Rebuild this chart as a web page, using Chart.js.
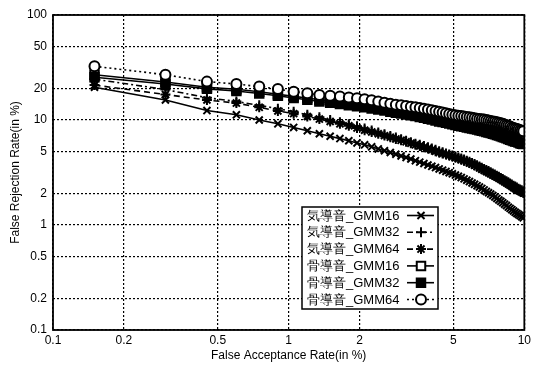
<!DOCTYPE html>
<html>
<head>
<meta charset="utf-8">
<script src="https://cdn.jsdelivr.net/npm/chart.js@4.4.0/dist/chart.umd.min.js"></script>
<style>
  html, body { margin: 0; padding: 0; background: #fff; }
  #wrap { width: 534px; height: 365px; }
</style>
</head>
<body>
<div id="wrap"><canvas id="detChart" width="534" height="365"></canvas></div>
<script>
// FAR (%) の測定点
const far = [0.15, 0.3, 0.45, 0.6, 0.75, 0.9, 1.05, 1.2, 1.35, 1.5, 1.65, 1.8, 1.95, 2.1, 2.25, 2.4, 2.55, 2.7,
  2.85, 3.0, 3.15, 3.3, 3.45, 3.6, 3.75, 3.9, 4.05, 4.2, 4.35, 4.5, 4.65, 4.8, 4.95, 5.1, 5.25, 5.4, 5.55,
  5.7, 5.85, 6.0, 6.15, 6.3, 6.45, 6.6, 6.75, 6.9, 7.05, 7.2, 7.35, 7.5, 7.65, 7.8, 7.95, 8.1, 8.25, 8.4,
  8.55, 8.7, 8.85, 9.0, 9.15, 9.3, 9.45, 9.6, 9.75, 9.9];

// FRR (%) 各条件
const airGmm16 = [20.5, 15.5, 12.3, 11.2, 10.0, 9.2, 8.5, 7.9, 7.4, 7.0, 6.65, 6.35, 6.05, 5.8, 5.55, 5.3, 5.1, 4.9,
  4.72, 4.55, 4.4, 4.25, 4.1, 3.97, 3.85, 3.73, 3.62, 3.52, 3.42, 3.33, 3.24, 3.15, 3.07, 2.99, 2.91, 2.83, 2.75,
  2.67, 2.59, 2.51, 2.44, 2.37, 2.30, 2.23, 2.16, 2.09, 2.03, 1.97, 1.91, 1.85, 1.79, 1.73, 1.68, 1.63, 1.58,
  1.53, 1.48, 1.44, 1.40, 1.36, 1.32, 1.29, 1.26, 1.23, 1.20, 1.17];
const airGmm32 = [24.5, 19.5, 16.3, 15.0, 13.8, 12.8, 12.0, 11.2, 10.6, 10.0, 9.5, 9.1, 8.7, 8.3, 7.95, 7.6, 7.3, 7.05,
  6.8, 6.55, 6.35, 6.15, 5.95, 5.8, 5.65, 5.5, 5.35, 5.2, 5.05, 4.92, 4.8, 4.7, 4.6, 4.5, 4.4, 4.3, 4.2,
  4.1, 4.0, 3.9, 3.8, 3.7, 3.6, 3.5, 3.42, 3.34, 3.26, 3.18, 3.1, 3.02, 2.95, 2.88, 2.81, 2.74, 2.67,
  2.61, 2.55, 2.49, 2.43, 2.37, 2.32, 2.27, 2.22, 2.18, 2.14, 2.10];
const airGmm64 = [21.5, 17.5, 15.5, 14.5, 13.2, 12.2, 11.5, 10.8, 10.2, 9.7, 9.2, 8.8, 8.4, 8.0, 7.7, 7.4, 7.1, 6.85,
  6.6, 6.4, 6.2, 6.0, 5.8, 5.65, 5.5, 5.35, 5.2, 5.05, 4.9, 4.8, 4.7, 4.6, 4.5, 4.4, 4.3, 4.2, 4.1,
  4.0, 3.9, 3.8, 3.7, 3.6, 3.5, 3.4, 3.32, 3.24, 3.16, 3.08, 3.0, 2.93, 2.86, 2.79, 2.72, 2.65, 2.58,
  2.52, 2.46, 2.40, 2.34, 2.28, 2.23, 2.18, 2.14, 2.10, 2.06, 2.02];
const boneGmm16 = [27.0, 23.0, 20.5, 19.6, 18.6, 17.6, 16.8, 16.2, 15.6, 15.2, 14.8, 14.4, 14.0, 13.7, 13.4, 13.1, 12.8, 12.5,
  12.2, 12.0, 11.8, 11.6, 11.4, 11.2, 11.0, 10.8, 10.6, 10.4, 10.2, 10.0, 9.85, 9.7, 9.55, 9.4, 9.25, 9.1, 9.0,
  8.9, 8.8, 8.7, 8.6, 8.5, 8.4, 8.3, 8.2, 8.1, 8.0, 7.9, 7.8, 7.7, 7.6, 7.5, 7.4, 7.3, 7.2,
  7.1, 7.0, 6.9, 6.8, 6.7, 6.65, 6.6, 6.5, 6.4, 6.35, 6.3];
const boneGmm32 = [25.5, 22.0, 19.8, 18.9, 17.9, 17.0, 16.2, 15.6, 15.0, 14.6, 14.2, 13.8, 13.5, 13.2, 12.9, 12.6, 12.3, 12.0,
  11.7, 11.5, 11.3, 11.1, 10.9, 10.7, 10.5, 10.3, 10.1, 9.9, 9.7, 9.55, 9.4, 9.25, 9.1, 8.95, 8.8, 8.7, 8.6,
  8.5, 8.4, 8.3, 8.2, 8.1, 8.0, 7.9, 7.8, 7.7, 7.6, 7.5, 7.4, 7.3, 7.2, 7.1, 7.0, 6.9, 6.8,
  6.7, 6.6, 6.5, 6.4, 6.3, 6.25, 6.2, 6.1, 6.0, 5.95, 5.9];
const boneGmm64 = [32.5, 27.0, 23.2, 22.0, 20.8, 19.7, 18.6, 18.0, 17.3, 17.0, 16.7, 16.4, 16.1, 15.8, 15.4, 15.0, 14.6, 14.3,
  14.0, 13.8, 13.6, 13.4, 13.2, 13.0, 12.8, 12.6, 12.4, 12.2, 12.0, 11.8, 11.6, 11.4, 11.2, 11.1, 11.0, 10.9, 10.8,
  10.7, 10.6, 10.5, 10.4, 10.3, 10.2, 10.15, 10.1, 10.0, 9.9, 9.8, 9.7, 9.6, 9.5, 9.4, 9.3, 9.2, 9.05,
  8.9, 8.8, 8.65, 8.5, 8.4, 8.3, 8.2, 8.1, 8.0, 7.9, 7.8];

const seriesLabels = ['気導音_GMM16', '気導音_GMM32', '気導音_GMM64', '骨導音_GMM16', '骨導音_GMM32', '骨導音_GMM64'];
const xTicks = [0.1, 0.2, 0.5, 1, 2, 5, 10];
const yTicks = [0.1, 0.2, 0.5, 1, 2, 5, 10, 20, 50, 100];

const FONT = '"Liberation Sans", Arial, Helvetica, sans-serif';

function pairs(ys) {
    return far.map(function (x, i) { return { x: x, y: ys[i] }; });
}

function serie(label, ys, style, dash, fill, radius, order) {
    return {
        label: label,
        data: pairs(ys),
        borderColor: '#000',
        borderWidth: 1.6,
        borderDash: dash,
        pointStyle: style,
        pointRadius: radius,
        pointBorderWidth: 2,
        pointBorderColor: '#000',
        pointBackgroundColor: fill,
        fill: false,
        tension: 0,
        order: order
    };
}

// 枠線と凡例（右下の箱）
function drawMarker(ctx, style, x, y, r, fill) {
    ctx.save();
    ctx.setLineDash([]);
    ctx.lineWidth = 2;
    ctx.strokeStyle = '#000';
    ctx.fillStyle = fill;
    ctx.beginPath();
    if (style === 'circle') {
        ctx.arc(x, y, r, 0, Math.PI * 2);
        ctx.fill(); ctx.stroke();
    } else if (style === 'rect') {
        const s = r * Math.SQRT1_2;
        ctx.rect(x - s, y - s, 2 * s, 2 * s);
        ctx.fill(); ctx.stroke();
    } else {
        if (style === 'cross' || style === 'star') {
            ctx.moveTo(x - r, y); ctx.lineTo(x + r, y);
            ctx.moveTo(x, y - r); ctx.lineTo(x, y + r);
        }
        if (style === 'crossRot' || style === 'star') {
            const d = r * Math.SQRT1_2;
            ctx.moveTo(x - d, y - d); ctx.lineTo(x + d, y + d);
            ctx.moveTo(x - d, y + d); ctx.lineTo(x + d, y - d);
        }
        ctx.stroke();
    }
    ctx.restore();
}

const frameLegend = {
    id: 'frameLegend',
    afterDraw: function (chart) {
        const ctx = chart.ctx;
        const a = chart.chartArea;
        ctx.save();
        ctx.setLineDash([]);
        ctx.strokeStyle = '#000';
        ctx.lineWidth = 1.8;
        ctx.strokeRect(a.left, a.top, a.right - a.left, a.bottom - a.top);

        const bx = 302, by = 207, bw = 136, bh = 102;
        ctx.fillStyle = '#fff';
        ctx.fillRect(bx, by, bw, bh);
        ctx.lineWidth = 1.5;
        ctx.strokeRect(bx, by, bw, bh);

        ctx.font = '13px ' + FONT;
        ctx.textBaseline = 'middle';
        chart.data.datasets.forEach(function (ds, i) {
            const y = by + 8.5 + i * 16.8;
            ctx.fillStyle = '#000';
            ctx.fillText(ds.label, bx + 5, y + 0.5);
            ctx.save();
            ctx.setLineDash(ds.borderDash || []);
            ctx.lineWidth = 1.6;
            ctx.beginPath();
            ctx.moveTo(bx + 105, y);
            ctx.lineTo(bx + 132, y);
            ctx.stroke();
            ctx.restore();
            drawMarker(ctx, ds.pointStyle, bx + 119, y, ds.pointRadius, ds.pointBackgroundColor);
        });
        ctx.restore();
    }
};

document.addEventListener('DOMContentLoaded', function () {
    const ctx = document.getElementById('detChart');

    new Chart(ctx, {
        type: 'line',
        data: {
            datasets: [
                serie(seriesLabels[0], airGmm16, 'crossRot', [], '#000', 5, 5),
                serie(seriesLabels[1], airGmm32, 'cross', [6, 3, 2, 3], '#000', 5, 4),
                serie(seriesLabels[2], airGmm64, 'star', [6, 4], '#000', 5, 3),
                serie(seriesLabels[3], boneGmm16, 'rect', [], '#fff', 6, 2),
                serie(seriesLabels[4], boneGmm32, 'rect', [], '#000', 6, 1),
                serie(seriesLabels[5], boneGmm64, 'circle', [2, 3], '#fff', 5, 0)
            ]
        },
        options: {
            responsive: false,
            animation: false,
            events: [],
            layout: { padding: { top: 15, right: 7, left: 0, bottom: 0 } },
            scales: {
                x: {
                    type: 'logarithmic',
                    min: 0.1,
                    max: 10,
                    afterBuildTicks: function (scale) {
                        scale.ticks = xTicks.map(function (v) { return { value: v }; });
                    },
                    afterFit: function (scale) { scale.height = 35; },
                    ticks: {
                        autoSkip: false,
                        maxRotation: 0,
                        padding: 3,
                        color: '#000',
                        font: { family: FONT, size: 12 },
                        callback: function (v) { return String(v); }
                    },
                    grid: { color: '#000', lineWidth: 1.2, drawTicks: false },
                    border: { display: false, dash: [2, 2] },
                    title: {
                        display: true,
                        text: 'False Acceptance Rate(in %)',
                        color: '#000',
                        font: { family: FONT, size: 12 },
                        padding: { top: 0, bottom: 2 }
                    }
                },
                y: {
                    type: 'logarithmic',
                    min: 0.1,
                    max: 100,
                    afterBuildTicks: function (scale) {
                        scale.ticks = yTicks.map(function (v) { return { value: v }; });
                    },
                    afterFit: function (scale) { scale.width = 53; },
                    ticks: {
                        autoSkip: false,
                        padding: 6,
                        color: '#000',
                        font: { family: FONT, size: 12 },
                        callback: function (v) { return String(v); }
                    },
                    grid: { color: '#000', lineWidth: 1.2, drawTicks: false },
                    border: { display: false, dash: [2, 2] },
                    title: {
                        display: true,
                        text: 'False Rejection Rate(in %)',
                        color: '#000',
                        font: { family: FONT, size: 12 },
                        padding: { top: 8, bottom: 0 }
                    }
                }
            },
            plugins: {
                legend: { display: false },
                tooltip: { enabled: false }
            }
        },
        plugins: [frameLegend]
    });
});
</script>
</body>
</html>
